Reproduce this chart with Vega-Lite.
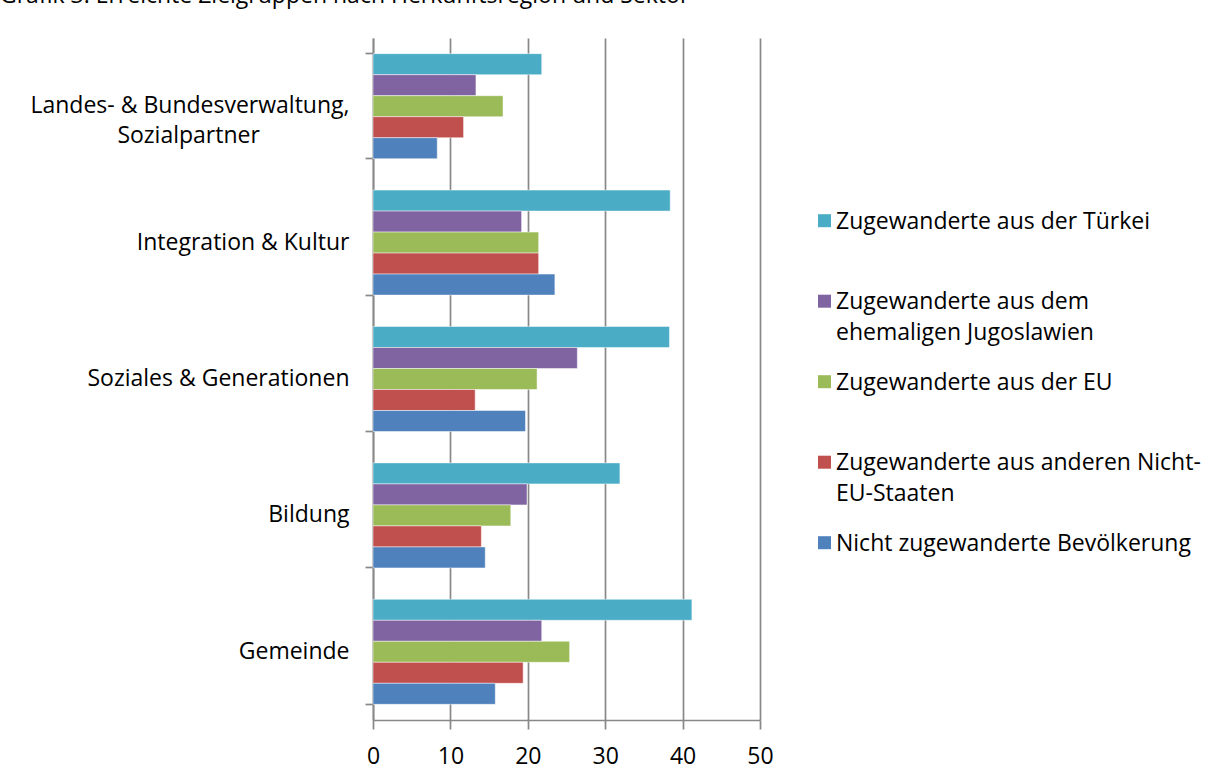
{
  "$schema": "https://vega.github.io/schema/vega-lite/v6.json",
  "autosize": {"type": "none"},
  "width": 387,
  "height": 682,
  "padding": {"left": 373, "top": 38, "right": 459, "bottom": 60},
  "background": "white",
  "title": {
    "text": "Grafik 3: Erreichte Zielgruppen nach Herkunftsregion und Sektor",
    "anchor": "start",
    "frame": "group",
    "orient": "top",
    "dx": -373,
    "dy": 18.5,
    "offset": 20,
    "baseline": "alphabetic",
    "font": "Open Sans",
    "fontSize": 23,
    "fontWeight": "normal",
    "color": "#000000"
  },
  "config": {
    "view": {"stroke": null},
    "font": "Open Sans",
    "style": {"guide-label": {"lineHeight": 31}}
  },
  "data": {
    "values": [
      {"Sektor": "Landes- & Bundesverwaltung, Sozialpartner", "Gruppe": "Zugewanderte aus der Türkei", "Wert": 21.8},
      {"Sektor": "Landes- & Bundesverwaltung, Sozialpartner", "Gruppe": "Zugewanderte aus dem ehemaligen Jugoslawien", "Wert": 13.3},
      {"Sektor": "Landes- & Bundesverwaltung, Sozialpartner", "Gruppe": "Zugewanderte aus der EU", "Wert": 16.8},
      {"Sektor": "Landes- & Bundesverwaltung, Sozialpartner", "Gruppe": "Zugewanderte aus anderen Nicht-EU-Staaten", "Wert": 11.7},
      {"Sektor": "Landes- & Bundesverwaltung, Sozialpartner", "Gruppe": "Nicht zugewanderte Bevölkerung", "Wert": 8.3},
      {"Sektor": "Integration & Kultur", "Gruppe": "Zugewanderte aus der Türkei", "Wert": 38.4},
      {"Sektor": "Integration & Kultur", "Gruppe": "Zugewanderte aus dem ehemaligen Jugoslawien", "Wert": 19.2},
      {"Sektor": "Integration & Kultur", "Gruppe": "Zugewanderte aus der EU", "Wert": 21.4},
      {"Sektor": "Integration & Kultur", "Gruppe": "Zugewanderte aus anderen Nicht-EU-Staaten", "Wert": 21.4},
      {"Sektor": "Integration & Kultur", "Gruppe": "Nicht zugewanderte Bevölkerung", "Wert": 23.5},
      {"Sektor": "Soziales & Generationen", "Gruppe": "Zugewanderte aus der Türkei", "Wert": 38.3},
      {"Sektor": "Soziales & Generationen", "Gruppe": "Zugewanderte aus dem ehemaligen Jugoslawien", "Wert": 26.4},
      {"Sektor": "Soziales & Generationen", "Gruppe": "Zugewanderte aus der EU", "Wert": 21.2},
      {"Sektor": "Soziales & Generationen", "Gruppe": "Zugewanderte aus anderen Nicht-EU-Staaten", "Wert": 13.2},
      {"Sektor": "Soziales & Generationen", "Gruppe": "Nicht zugewanderte Bevölkerung", "Wert": 19.7},
      {"Sektor": "Bildung", "Gruppe": "Zugewanderte aus der Türkei", "Wert": 31.9},
      {"Sektor": "Bildung", "Gruppe": "Zugewanderte aus dem ehemaligen Jugoslawien", "Wert": 19.9},
      {"Sektor": "Bildung", "Gruppe": "Zugewanderte aus der EU", "Wert": 17.8},
      {"Sektor": "Bildung", "Gruppe": "Zugewanderte aus anderen Nicht-EU-Staaten", "Wert": 14.0},
      {"Sektor": "Bildung", "Gruppe": "Nicht zugewanderte Bevölkerung", "Wert": 14.5},
      {"Sektor": "Gemeinde", "Gruppe": "Zugewanderte aus der Türkei", "Wert": 41.2},
      {"Sektor": "Gemeinde", "Gruppe": "Zugewanderte aus dem ehemaligen Jugoslawien", "Wert": 21.8},
      {"Sektor": "Gemeinde", "Gruppe": "Zugewanderte aus der EU", "Wert": 25.4},
      {"Sektor": "Gemeinde", "Gruppe": "Zugewanderte aus anderen Nicht-EU-Staaten", "Wert": 19.4},
      {"Sektor": "Gemeinde", "Gruppe": "Nicht zugewanderte Bevölkerung", "Wert": 15.8}
    ]
  },
  "mark": {"type": "bar", "stroke": "#ffffff", "strokeWidth": 0.8, "strokeOpacity": 0.6},
  "encoding": {
    "x": {
      "field": "Wert",
      "type": "quantitative",
      "scale": {"domain": [0, 50], "nice": false},
      "axis": {
        "title": null,
        "values": [0, 10, 20, 30, 40, 50],
        "grid": true,
        "gridColor": "#888888",
        "gridWidth": 1.7,
        "domainColor": "#888888",
        "domainWidth": 1.7,
        "tickColor": "#888888",
        "tickWidth": 1.7,
        "tickSize": 9,
        "labelFont": "Open Sans",
        "labelFontSize": 23,
        "labelColor": "#000000",
        "labelPadding": 16,
        "labelFlush": false
      }
    },
    "y": {
      "field": "Sektor",
      "type": "nominal",
      "sort": ["Landes- & Bundesverwaltung, Sozialpartner", "Integration & Kultur", "Soziales & Generationen", "Bildung", "Gemeinde"],
      "scale": {"paddingInner": 0.23, "paddingOuter": 0.115},
      "axis": {
        "title": null,
        "grid": false,
        "bandPosition": 1,
        "tickExtra": true,
        "domainColor": "#888888",
        "domainWidth": 1.7,
        "tickColor": "#888888",
        "tickWidth": 1.7,
        "tickSize": 8,
        "labelFont": "Open Sans",
        "labelFontSize": 23,
        "labelColor": "#000000",
        "labelPadding": 16,
        "labelLimit": 400,
        "labelLineHeight": 29.5,
        "labelExpr": "datum.label == 'Landes- & Bundesverwaltung, Sozialpartner' ? ['Landes- & Bundesverwaltung,', 'Sozialpartner\u00a0\u00a0\u00a0\u00a0\u00a0\u00a0\u00a0\u00a0\u00a0\u00a0\u00a0\u00a0\u00a0\u00a0\u00a0\u200b'] : datum.label"
      }
    },
    "yOffset": {
      "field": "Gruppe",
      "type": "nominal",
      "sort": ["Zugewanderte aus der Türkei", "Zugewanderte aus dem ehemaligen Jugoslawien", "Zugewanderte aus der EU", "Zugewanderte aus anderen Nicht-EU-Staaten", "Nicht zugewanderte Bevölkerung"],
      "scale": {"paddingInner": 0, "paddingOuter": 0}
    },
    "color": {
      "field": "Gruppe",
      "type": "nominal",
      "scale": {
        "domain": ["Zugewanderte aus der Türkei", "Zugewanderte aus dem ehemaligen Jugoslawien", "Zugewanderte aus der EU", "Zugewanderte aus anderen Nicht-EU-Staaten", "Nicht zugewanderte Bevölkerung"],
        "range": ["#4BACC6", "#8064A2", "#9BBB59", "#C0504D", "#4F81BD"]
      },
      "legend": {
        "title": null,
        "orient": "none",
        "legendX": 440,
        "legendY": 179,
        "symbolType": "M-1,-2.2H1V-0.2H-1Z",
        "symbolSize": 169,
        "symbolStrokeWidth": 0,
        "labelFont": "Open Sans",
        "labelFontSize": 23,
        "labelColor": "#000000",
        "labelLimit": 500,
        "labelOffset": 0,
        "labelBaseline": "alphabetic",
        "rowPadding": 25.5,
        "labelExpr": "datum.label == 'Zugewanderte aus dem ehemaligen Jugoslawien' ? ['Zugewanderte aus dem', 'ehemaligen Jugoslawien'] : datum.label == 'Zugewanderte aus anderen Nicht-EU-Staaten' ? ['Zugewanderte aus anderen Nicht-', 'EU-Staaten'] : [datum.label, '']"
      }
    }
  }
}
